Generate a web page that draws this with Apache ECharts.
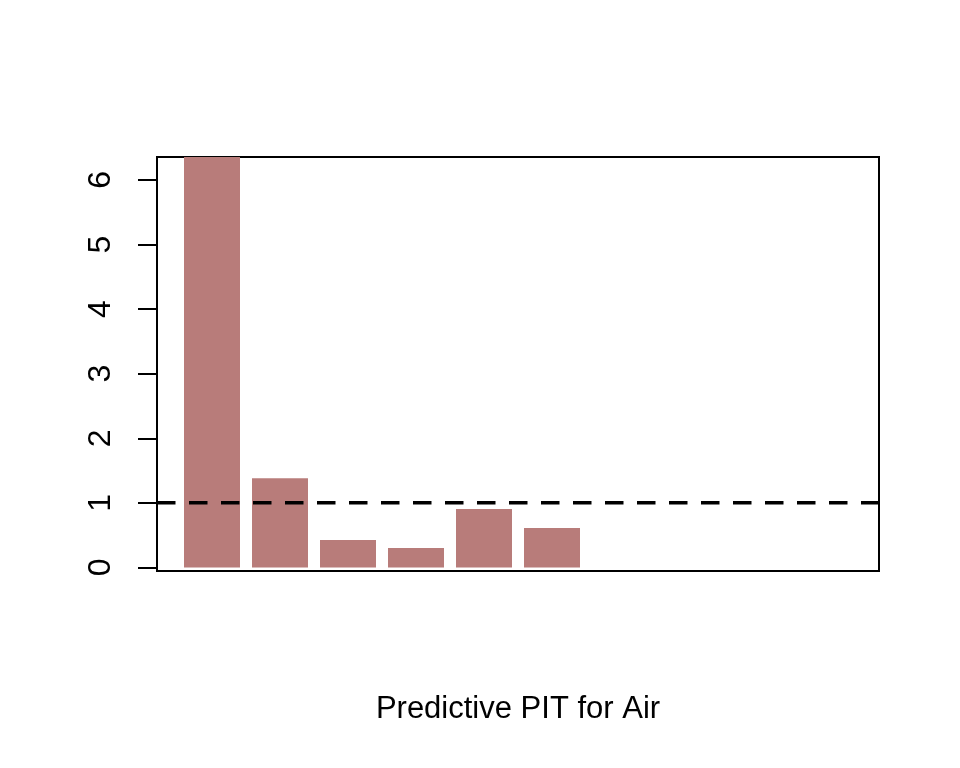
<!DOCTYPE html>
<html>
<head>
<meta charset="utf-8">
<title>Predictive PIT for Air</title>
<script src="https://cdn.jsdelivr.net/npm/echarts@6/dist/echarts.min.js"></script>
<style>
  html, body { margin: 0; padding: 0; background: #fff; }
  #chart { width: 960px; height: 768px; }
</style>
</head>
<body>
<div id="chart"></div>
<script>
  // PIT histogram bins (first bin runs past the top of the plot)
  const bins = ["1", "2", "3", "4", "5", "6"];
  const density = [6.36, 1.38, 0.425, 0.3, 0.905, 0.61];
  const yTicks = [0, 1, 2, 3, 4, 5, 6];
  const uniformLevel = 1;

  const font = "'Liberation Sans', Arial, sans-serif";
  const yMin = -0.055;
  const yMax = 6.355;

  const chart = echarts.init(document.getElementById("chart"));

  chart.setOption({
    animation: false,
    backgroundColor: "#ffffff",
    grid: [
      {
        left: 157, top: 157, width: 722, height: 414,
        show: true, borderColor: "#000", borderWidth: 2,
        backgroundColor: "transparent"
      },
      { left: 178, top: 157, width: 408, height: 414 }
    ],
    xAxis: [
      {
        gridIndex: 0, type: "value", min: 0, max: 1,
        axisLine: { show: false }, axisTick: { show: false },
        axisLabel: { show: false }, splitLine: { show: false },
        name: "Predictive PIT for Air",
        nameLocation: "middle",
        nameGap: 123,
        nameTextStyle: { color: "#000", fontSize: 31, fontFamily: font }
      },
      {
        gridIndex: 1, type: "category", data: bins,
        axisLine: { show: false }, axisTick: { show: false },
        axisLabel: { show: false }, splitLine: { show: false }
      }
    ],
    yAxis: [
      {
        gridIndex: 0, type: "value", min: yMin, max: yMax,
        axisLine: { show: false },
        splitLine: { show: false },
        axisTick: {
          show: true, length: 19, customValues: yTicks,
          lineStyle: { color: "#000", width: 2 }
        },
        axisLabel: {
          show: true, customValues: yTicks, rotate: 90, margin: 40,
          color: "#000", fontSize: 32, fontFamily: font
        }
      },
      {
        gridIndex: 1, type: "value", min: yMin, max: yMax,
        axisLine: { show: false }, axisTick: { show: false },
        axisLabel: { show: false }, splitLine: { show: false }
      }
    ],
    series: [
      {
        type: "bar",
        xAxisIndex: 1, yAxisIndex: 1,
        data: density,
        barWidth: 56,
        itemStyle: { color: "#b87c7a" },
        clip: true,
        z: 2
      },
      {
        type: "line",
        xAxisIndex: 0, yAxisIndex: 0,
        data: [[0, uniformLevel], [1, uniformLevel]],
        symbol: "none",
        lineStyle: { color: "#000", width: 3.5, type: [18.5, 13.5], cap: "butt" },
        z: 3
      }
    ]
  });
</script>
</body>
</html>
